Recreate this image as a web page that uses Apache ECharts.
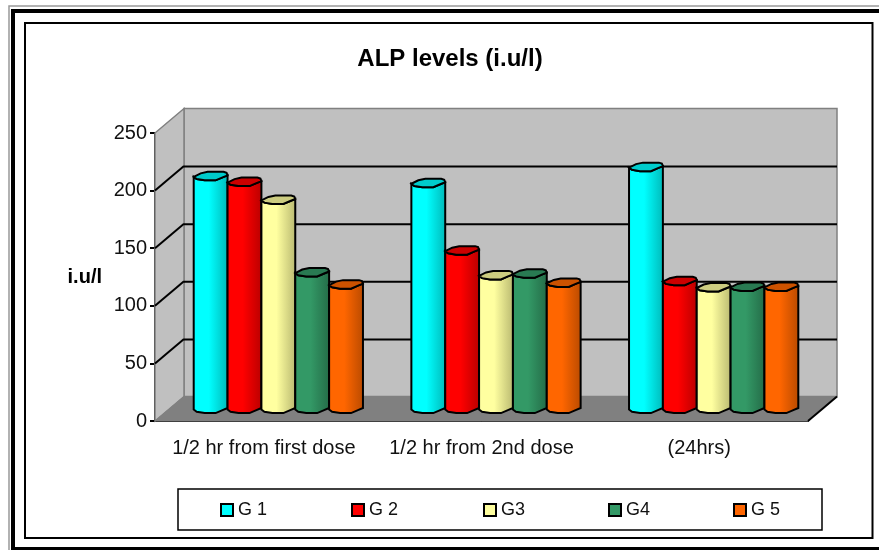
<!DOCTYPE html>
<html>
<head>
<meta charset="utf-8">
<title>ALP levels</title>
<script src="https://cdn.jsdelivr.net/npm/echarts@6/dist/echarts.min.js"></script>
<style>
  html, body { margin: 0; padding: 0; background: #fff; }
  #main { width: 879px; height: 550px; }
</style>
</head>
<body>
<div id="main"></div>
<script>
  var categories = ['1/2 hr from first dose', '1/2 hr from 2nd dose', '(24hrs)']
  var yTicks = [50, 100, 150, 200, 250]
  var groupNames = ['G 1', 'G 2', 'G3', 'G4', 'G 5']

  var g1 = [202, 196, 210]
  var g2 = [197, 137.5, 111]
  var g3 = [181.5, 116, 105.5]
  var g4 = [118.5, 117.5, 106]
  var g5 = [108, 109.5, 106]

  var groupValues = [g1, g2, g3, g4, g5]
  // left face, right face, top cap
  var faceColors = [
    ['#00ffff', '#00b8b8', '#00cccc'],
    ['#ff0000', '#b80000', '#cc0000'],
    ['#ffffa0', '#b8b870', '#cccc80'],
    ['#339966', '#246b47', '#297a52'],
    ['#ff6600', '#b84a00', '#cc5200']
  ]
  var legendLeft = [220, 351, 483, 608, 733]

  // how far the back wall sits behind the axis plane
  var depthX = 29
  var depthY = 24.5
  var gapRatio = 1.43

  // outline of the low poly cap, px around the centre for a 34px wide bar
  var capPoints = [[-17, 0.8], [-14, 3], [-6, 4.3], [5, 4.3], [12, 1.3], [17, -0.7], [16, -3.2], [13, -4.2], [-3, -4.2], [-10, -2.7]]
  var capFront = capPoints.slice(0, 6)

  function renderWalls(params, api) {
    var sys = params.coordSys
    var x0 = sys.x, x1 = sys.x + sys.width
    var yBase = sys.y + sys.height, yTop = sys.y
    var children = []
    // back wall
    children.push({
      type: 'polygon',
      shape: { points: [[x0 + depthX, yTop - depthY], [x1 + depthX, yTop - depthY], [x1 + depthX, yBase - depthY], [x0 + depthX, yBase - depthY]] },
      style: { fill: '#c0c0c0', stroke: '#808080', lineWidth: 1.5 }
    })
    // side wall
    children.push({
      type: 'polygon',
      shape: { points: [[x0, yTop], [x0 + depthX, yTop - depthY], [x0 + depthX, yBase - depthY], [x0, yBase]] },
      style: { fill: '#c0c0c0', stroke: '#808080', lineWidth: 1.5 }
    })
    // floor
    children.push({
      type: 'polygon',
      shape: { points: [[x0, yBase], [x0 + depthX, yBase - depthY], [x1 + depthX, yBase - depthY], [x1, yBase]] },
      style: { fill: '#808080', stroke: '#808080', lineWidth: 1 }
    })
    children.push({
      type: 'line',
      shape: { x1: x1, y1: yBase, x2: x1 + depthX, y2: yBase - depthY },
      style: { stroke: '#000', lineWidth: 2 }
    })
    yTicks.forEach(function (t) {
      var y = api.coord([0, t])[1]
      if (t < 250) {
        children.push({
          type: 'line',
          shape: { x1: x0 + depthX, y1: y - depthY + 0.5, x2: x1 + depthX, y2: y - depthY + 0.5 },
          style: { stroke: '#000', lineWidth: 2 }
        })
        children.push({
          type: 'line',
          shape: { x1: x0, y1: y, x2: x0 + depthX, y2: y - depthY },
          style: { stroke: '#000', lineWidth: 2 }
        })
      }
    })
    return { type: 'group', children: children }
  }

  function makeBarRender(index) {
    return function (params, api) {
      var band = api.size([1, 0])[0]
      var barW = band / (groupNames.length + gapRatio)
      var base = api.coord([api.value(0), 0])
      var top = api.coord([api.value(0), api.value(1)])
      var cx = base[0] + (index - 2) * barW + depthX / 2
      var yBottom = base[1] - depthY / 2
      var yTop = top[1] - depthY / 2
      var k = barW / 34
      var body = []
      capFront.forEach(function (p) { body.push([cx + p[0] * k, yBottom + p[1]]) })
      capFront.slice().reverse().forEach(function (p) { body.push([cx + p[0] * k, yTop + p[1]]) })
      var cap = capPoints.map(function (p) { return [cx + p[0] * k, yTop + p[1]] })
      var c = faceColors[index]
      return {
        type: 'group',
        children: [{
          type: 'polygon',
          shape: { points: body },
          style: {
            stroke: '#000',
            lineWidth: 2,
            fill: new echarts.graphic.LinearGradient(0, 0, 1, 0, [
              { offset: 0, color: c[0] },
              { offset: 0.45, color: c[0] },
              { offset: 1, color: c[1] }
            ])
          }
        }, {
          type: 'polygon',
          shape: { points: cap },
          style: { fill: c[2], stroke: '#000', lineWidth: 2 }
        }]
      }
    }
  }

  var series = [{
    type: 'custom',
    silent: true,
    clip: false,
    z: 1,
    renderItem: renderWalls,
    data: [[0, 0]],
    encode: { x: 0, y: 1 }
  }]

  groupNames.forEach(function (name, i) {
    series.push({
      name: name,
      type: 'custom',
      clip: false,
      z: 2 + i,
      renderItem: makeBarRender(i),
      itemStyle: { color: faceColors[i][0], borderColor: '#000', borderWidth: 2 },
      encode: { x: 0, y: 1 },
      data: groupValues[i].map(function (v, c) { return [c, v] })
    })
  })

  var fontFamily = '"Liberation Sans", Arial, sans-serif'

  var option = {
    animation: false,
    backgroundColor: '#fff',
    textStyle: { fontFamily: fontFamily },
    title: {
      text: 'ALP levels (i.u/l)',
      left: 445,
      top: 42,
      textAlign: 'center',
      textStyle: { fontFamily: fontFamily, fontSize: 24, fontWeight: 'bold', color: '#000' }
    },
    grid: { left: 155, right: 71, top: 133, bottom: 129 },
    legend: groupNames.map(function (name, i) {
      return {
        data: [name],
        left: legendLeft[i],
        top: 501,
        icon: 'rect',
        itemWidth: 12,
        itemHeight: 12,
        selectedMode: false,
        padding: 0,
        textStyle: { fontFamily: fontFamily, fontSize: 18, color: '#111' }
      }
    }),
    xAxis: {
      type: 'category',
      data: categories,
      axisLine: { lineStyle: { color: '#000', width: 2 } },
      axisTick: { lineStyle: { color: '#000', width: 2 }, length: 6 },
      axisLabel: { interval: 0, fontFamily: fontFamily, fontSize: 20, color: '#111', margin: 17 }
    },
    yAxis: {
      type: 'value',
      min: 0,
      max: 250,
      interval: 50,
      name: 'i.u/l',
      nameLocation: 'middle',
      nameRotate: 0,
      nameGap: 53,
      nameTextStyle: { fontFamily: fontFamily, fontSize: 20, fontWeight: 'bold', color: '#000', padding: [10, 0, 0, 0] },
      axisLine: { show: true, lineStyle: { color: '#000', width: 2 } },
      axisTick: { show: true, lineStyle: { color: '#000', width: 2 }, length: 5 },
      axisLabel: { fontFamily: fontFamily, fontSize: 20, color: '#111', margin: 8 },
      splitLine: { show: false }
    },
    // page frame and legend box
    graphic: [
      { type: 'rect', silent: true, z: -10, shape: { x: 9, y: 6, width: 880, height: 550 }, style: { fill: 'none', stroke: '#999', lineWidth: 1.5 } },
      { type: 'rect', silent: true, z: -10, shape: { x: 13, y: 11, width: 880, height: 538 }, style: { fill: 'none', stroke: '#000', lineWidth: 4 } },
      { type: 'rect', silent: true, z: -10, shape: { x: 25, y: 23, width: 847.5, height: 515 }, style: { fill: '#fff', stroke: '#000', lineWidth: 2 } },
      { type: 'rect', silent: true, z: -10, shape: { x: 178, y: 489, width: 644, height: 41 }, style: { fill: '#fff', stroke: '#000', lineWidth: 1.5 } }
    ],
    series: series
  }

  var myChart = echarts.init(document.getElementById('main'))
  myChart.setOption(option)
</script>
</body>
</html>
